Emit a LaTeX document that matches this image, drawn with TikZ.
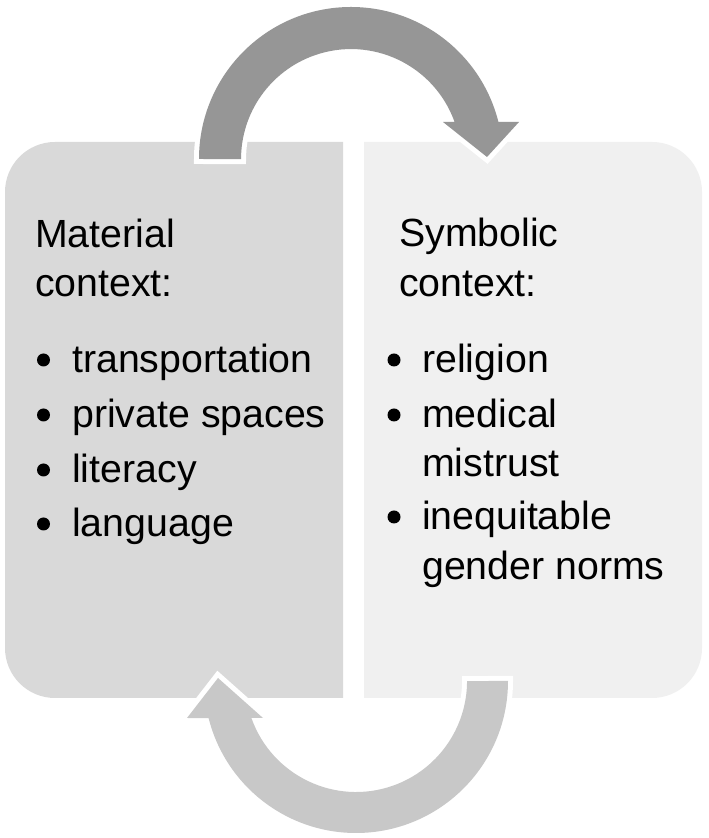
\documentclass[tikz,border=0pt]{standalone}
\usepackage{fontspec}
\setmainfont{Liberation Sans}
\definecolor{boxL}{HTML}{D9D9D9}
\definecolor{boxR}{HTML}{F0F0F0}
\definecolor{arrTop}{HTML}{969696}
\definecolor{arrBot}{HTML}{C8C8C8}
\tikzset{
  txt/.style={anchor=base west, inner sep=0pt, font=\fontsize{39.3}{47}\selectfont},
  bul/.style={circle, fill=black, inner sep=0pt, minimum size=13pt},
  blockarrow/.style={preaction={draw=white, line width=10pt, line join=miter}},
}
\begin{document}
\begin{tikzpicture}[x=1pt,y=1pt]
\useasboundingbox (0,0) rectangle (709,838);
\fill[white] (0,0) rectangle (709,838);
% boxes
\fill[boxL] (343,140) -- (343,696) -- (55,696) arc[start angle=90, end angle=180, radius=50pt] -- (5,190) arc[start angle=180, end angle=270, radius=50pt] -- cycle;
\fill[boxR] (364,140) -- (364,696) -- (652,696) arc[start angle=90, end angle=0, radius=50pt] -- (702,190) arc[start angle=0, end angle=-90, radius=50pt] -- cycle;
% top arrow
\fill[arrTop, blockarrow] (199,679) arc[start angle=180, end angle=14.1, radius=152pt] -- (519,716) -- (487,681) -- (443,716) -- (454.6,716) arc[start angle=19.7, end angle=180, radius=110pt] -- cycle;
% bottom arrow
\fill[arrBot, blockarrow] (508,157) arc[start angle=0, end angle=-165.9, radius=152pt] -- (187,120) -- (218,160) -- (263,120) -- (251.4,120) arc[start angle=-160.53, end angle=0, radius=111pt] -- cycle;
% left text
\node[txt] (m1) at (35,590) {Material};
\node[txt] (m2) at (35,541) {context:};
\node[txt] (m3) at (72,465) {transportation};
\node[txt] (m4) at (72,410) {private spaces};
\node[txt] (m5) at (72,355) {literacy};
\node[txt] (m6) at (72,301) {language};
\node[bul] (b1) at (43.5,478) {};
\node[bul] (b2) at (43.5,423) {};
\node[bul] (b3) at (43.5,368) {};
\node[bul] (b4) at (43.5,314) {};
% right text
\node[txt] (s1) at (399,591) {Symbolic};
\node[txt] (s2) at (399,541) {context:};
\node[txt] (s3) at (422,465) {religion};
\node[txt] (s4) at (422,410) {medical};
\node[txt] (s5) at (422,361) {mistrust};
\node[txt] (s6) at (422,308) {inequitable};
\node[txt] (s7) at (422,258) {gender norms};
\node[bul] (c1) at (394,478) {};
\node[bul] (c2) at (394,423) {};
\node[bul] (c3) at (394,321) {};
\end{tikzpicture}
\end{document}
